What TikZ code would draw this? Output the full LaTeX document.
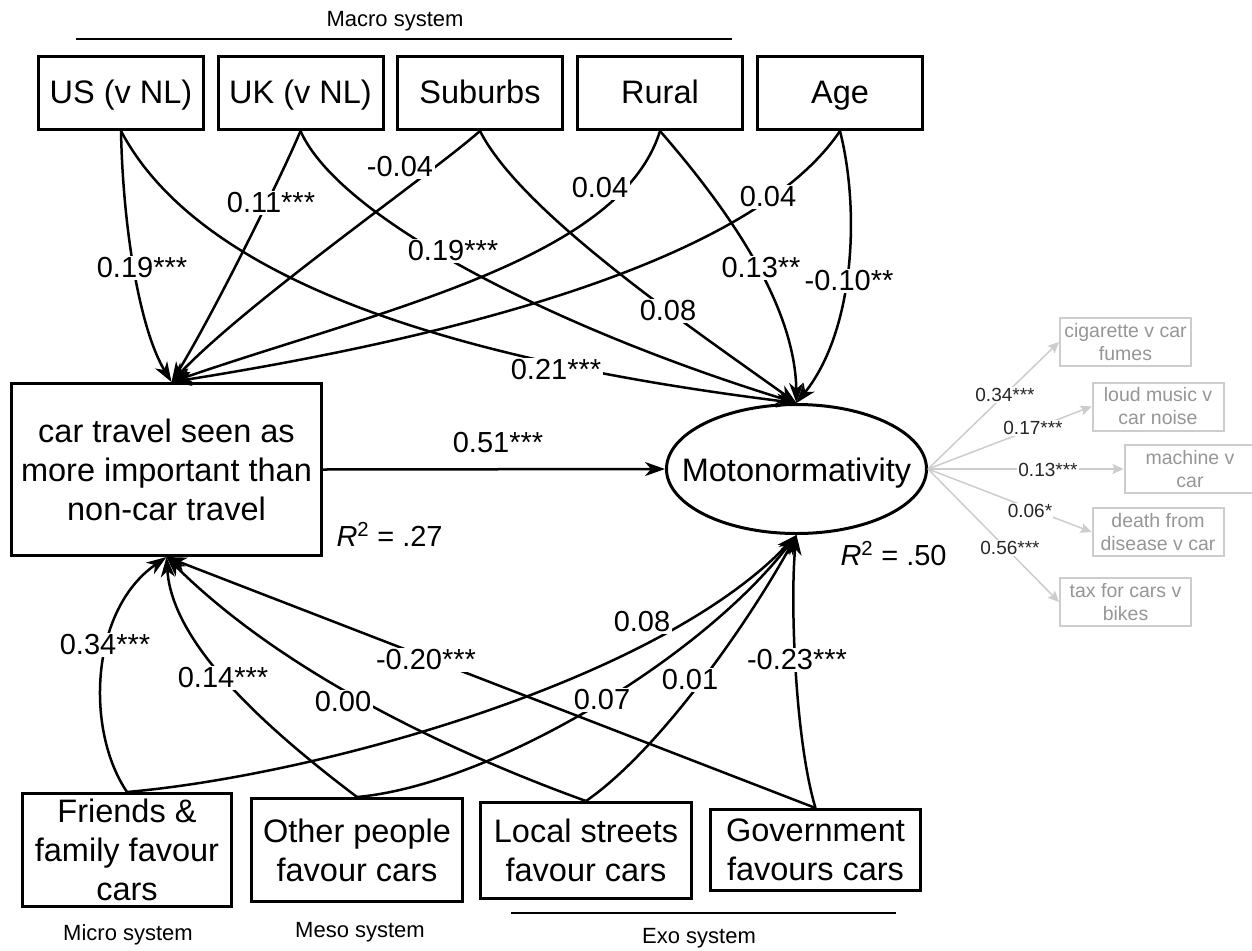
\documentclass[tikz,border=0pt]{standalone}
\usepackage{fontspec}
\setmainfont{Liberation Sans}
\usetikzlibrary{shapes.geometric,arrows.meta}
\definecolor{greyline}{RGB}{205,205,205}
\definecolor{greytext}{RGB}{150,150,150}
\begin{document}
\begin{tikzpicture}[x=1pt,y=-1pt,
  box/.style={draw,line width=3pt,inner sep=0pt,align=center,font=\fontsize{32.5}{39}\selectfont},
  topbox/.style={box,minimum width=165pt,minimum height=73pt,text height=24pt,text depth=4pt},
  conn/.style={line width=2.5pt,-{Stealth[length=20pt,width=14pt,inset=6pt]}},
  lab/.style={fill=white,inner sep=1.5pt,font=\fontsize{29}{30}\selectfont},
  sys/.style={anchor=base,font=\fontsize{22}{24}\selectfont},
  sysline/.style={line width=1.3pt},
  gbox/.style={draw=greyline,line width=2pt,inner sep=0pt,align=center,text=greytext,
    font=\fontsize{19.5}{23}\selectfont,minimum width=131pt,minimum height=48pt},
  gconn/.style={draw=greyline,line width=1.5pt,-{Stealth[length=11pt,width=10pt,inset=2pt]}},
  glab/.style={fill=white,inner sep=1pt,font=\fontsize{19}{20}\selectfont,text=black!85},
  rsq/.style={anchor=base west,font=\fontsize{29}{30}\selectfont}
]
\useasboundingbox (0,0) rectangle (1252,950);
\fill[white] (0,0) rectangle (1252,950);

% system labels
\node[sys] (macro) at (395,27) {Macro system};
\coordinate (macroL) at (76,39);
\coordinate (macroR) at (732,39);
\draw[sysline] (macroL) -- (macroR);
\node[sys] (micro) at (128,940) {Micro system};
\node[sys] (meso) at (360,937) {Meso system};
\node[sys] (exo) at (699,943) {Exo system};
\coordinate (exoL) at (511,913);
\coordinate (exoR) at (896,913);
\draw[sysline] (exoL) -- (exoR);

% top boxes
\node[topbox] (us) at (121,93) {US (v NL)};
\node[topbox] (uk) at (300.5,93) {UK (v NL)};
\node[topbox] (sub) at (480,93) {Suburbs};
\node[topbox] (rur) at (660,93) {Rural};
\node[topbox] (age) at (840,93) {Age};

% central nodes
\node[box,minimum width=310pt,minimum height=172pt] (car) at (166.5,469.5)
  {car travel seen as\\more important than\\non-car travel};
\node[draw,ellipse,line width=3pt,minimum width=260pt,minimum height=129pt,inner sep=0pt] (moto) at (796.5,469) {};
\node[anchor=base,font=\fontsize{32.5}{38}\selectfont,inner sep=0pt] (mototext) at (796.5,481) {Motonormativity};
\node[rsq] (r1) at (333,546) {\textit{R}\textsuperscript{2} = .27};
\node[rsq] (r2) at (837,565) {\textit{R}\textsuperscript{2} = .50};

% bottom boxes
\node[box,minimum width=209pt,minimum height=113pt] (fri) at (127,850) {Friends \&\\family favour\\cars};
\node[box,minimum width=211pt,minimum height=103pt] (oth) at (357,850) {Other people\\favour cars};
\node[box,minimum width=211pt,minimum height=96pt] (loc) at (586,850.5) {Local streets\\favour cars};
\node[box,minimum width=210pt,minimum height=81pt] (gov) at (815.5,850) {Government\\favours cars};

% grey indicator boxes
\node[gbox] (g1) at (1125.5,342) {cigarette v car\\fumes};
\node[gbox] (g2) at (1158,406.5) {loud music v\\car noise};
\node[gbox] (g3) at (1190,469) {machine v\\car};
\node[gbox] (g4) at (1158,532) {death from\\disease v car};
\node[gbox] (g5) at (1125.5,602) {tax for cars v\\bikes};

% top connectors
\draw[conn] (us.south) .. controls (123,230) and (140,330) .. ([xshift=5pt]car.north);
\draw[conn] (us.south) .. controls (200,280) and (450,360) .. (moto.north);
\draw[conn] (uk.south) .. controls (280,180) and (210,320) .. ([xshift=5pt]car.north);
\draw[conn] (uk.south) .. controls (340,220) and (560,330) .. (moto.north);
\draw[conn] (sub.south) .. controls (430,175) and (250,300) .. ([xshift=5pt]car.north);
\draw[conn] (sub.south) .. controls (520,210) and (680,320) .. (moto.north);
\draw[conn] (rur.south) .. controls (620,260) and (380,310) .. ([xshift=5pt]car.north);
\draw[conn] (rur.south) .. controls (720,200) and (795,300) .. (moto.north);
\draw[conn] (age.south) .. controls (760,250) and (500,330) .. ([xshift=5pt]car.north);
\draw[conn] (age.south) .. controls (860,210) and (855,330) .. (moto.north);

% main path
\draw[conn] (car.east) -- (moto.west);

% bottom connectors
\draw[conn] (fri.north) .. controls (85,730) and (90,610) .. (car.south);
\draw[conn] (fri.north) .. controls (320,775) and (660,680) .. (moto.south);
\draw[conn] (oth.north) .. controls (255,720) and (172,640) .. (car.south);
\draw[conn] (oth.north) .. controls (490,785) and (700,660) .. (moto.south);
\draw[conn] (loc.north) .. controls (500,770) and (300,690) .. (car.south);
\draw[conn] (loc.north) .. controls (660,750) and (750,620) .. (moto.south);
\draw[conn] (gov.north) -- (car.south);
\draw[conn] (gov.north) .. controls (795,740) and (790,600) .. (moto.south);

% grey connectors
\draw[gconn] (moto.east) -- (g1.west);
\draw[gconn] (moto.east) -- (g2.west);
\draw[gconn] (moto.east) -- (g3.west);
\draw[gconn] (moto.east) -- (g4.west);
\draw[gconn] (moto.east) -- (g5.west);

% labels
\node[lab] (lusc) at (142,268) {0.19***};
\node[lab] (lusm) at (556,370) {0.21***};
\node[lab] (lukc) at (271,203) {0.11***};
\node[lab] (lukm) at (453,251) {0.19***};
\node[lab] (lsubc) at (400,167) {-0.04};
\node[lab] (lsubm) at (668,311) {0.08};
\node[lab] (lrurc) at (600,188) {0.04};
\node[lab] (lrurm) at (761,268) {0.13**};
\node[lab] (lagec) at (768,197) {0.04};
\node[lab] (lagem) at (849,281) {-0.10**};
\node[font=\fontsize{29}{30}\selectfont,inner sep=1.5pt] (lcarm) at (498,443) {0.51***};
\node[lab] (lfric) at (105,645) {0.34***};
\node[lab] (lfrim) at (642,622) {0.08};
\node[lab] (lothc) at (223,678) {0.14***};
\node[lab] (lothm) at (602,700) {0.07};
\node[lab] (llocc) at (343,702) {0.00};
\node[lab] (llocm) at (690,680) {0.01};
\node[lab] (lgovc) at (426,660) {-0.20***};
\node[lab] (lgovm) at (797,660) {-0.23***};

\node[glab] (lg1) at (1005,395) {0.34***};
\node[glab] (lg2) at (1033,428) {0.17***};
\node[glab] (lg3) at (1048,470) {0.13***};
\node[glab] (lg4) at (1030,511) {0.06*};
\node[glab] (lg5) at (1010,548) {0.56***};
\end{tikzpicture}
\end{document}
